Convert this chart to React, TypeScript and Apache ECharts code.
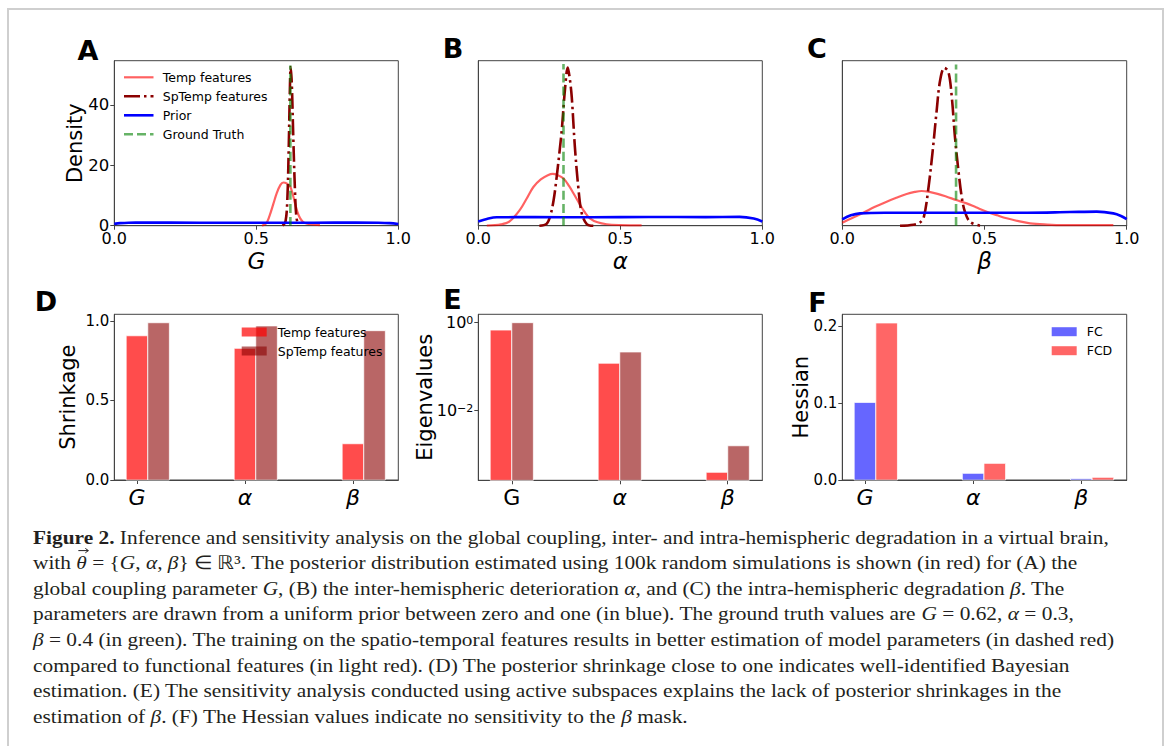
import React, { useEffect, useRef } from "react";
import * as echarts from "echarts";

// ---------- Data ----------
// Panel A: posterior densities of G
const aTemp: number[][] = [[0.52,0],[0.535,0.8],[0.546,3.1],[0.56,7.2],[0.572,10.8],[0.585,13.5],[0.595,14.3],[0.607,14.0],[0.619,13.0],[0.628,10.5],[0.636,7.5],[0.645,4.5],[0.654,2.5],[0.663,1.4],[0.671,0.9],[0.69,0.5],[0.724,0.2]];
const aSpTemp: number[][] = [[0.593,0],[0.603,1.5],[0.609,8],[0.614,25],[0.618,44],[0.621,52.5],[0.625,47],[0.63,30],[0.636,12],[0.641,3],[0.648,0]];
const aPrior: number[][] = [[0,0.6],[0.02,0.85],[0.05,1.0],[0.1,1.02],[0.3,1.0],[0.5,1.0],[0.7,1.0],[0.85,1.02],[0.93,0.98],[0.97,0.85],[1,0.55]];
const aTruth: number[][] = [[0.62,0],[0.62,53]];

// Panel B: posterior densities of alpha
const bTemp: number[][] = [[0.03,0],[0.08,0.15],[0.11,0.5],[0.147,1.9],[0.17,3.2],[0.194,4.6],[0.22,5.5],[0.245,6.0],[0.262,6.15],[0.28,6.0],[0.3,5.6],[0.32,4.7],[0.335,3.85],[0.358,2.5],[0.375,1.6],[0.393,0.88],[0.42,0.4],[0.452,0.17],[0.5,0.08],[0.575,0.05]];
const bSpTemp: number[][] = [[0.215,0],[0.24,0.2],[0.252,1],[0.265,3],[0.276,5.8],[0.286,8.8],[0.294,11.4],[0.305,16.1],[0.315,18.8],[0.322,17.5],[0.329,15.3],[0.34,9.4],[0.352,4.6],[0.364,1.5],[0.382,0.2],[0.405,0]];
const bPrior: number[][] = [[0,0.5],[0.03,0.8],[0.065,1.0],[0.2,1.02],[0.4,1.0],[0.6,1.03],[0.8,1.02],[0.92,1.05],[0.97,0.86],[1,0.5]];
const bTruth: number[][] = [[0.3,0],[0.3,19.2]];

// Panel C: posterior densities of beta
const cTemp: number[][] = [[0,0.23],[0.035,0.6],[0.074,1.0],[0.115,1.45],[0.156,1.85],[0.19,2.15],[0.226,2.44],[0.255,2.6],[0.279,2.67],[0.302,2.62],[0.335,2.45],[0.367,2.23],[0.4,1.98],[0.437,1.72],[0.47,1.42],[0.508,1.08],[0.545,0.8],[0.578,0.57],[0.62,0.35],[0.66,0.18],[0.72,0.09],[0.777,0.05],[0.953,0.05]];
const cSpTemp: number[][] = [[0.203,0],[0.25,0.08],[0.273,0.25],[0.287,0.7],[0.302,2.75],[0.318,5.8],[0.332,8.9],[0.344,11.2],[0.359,12.15],[0.373,11.85],[0.385,9.9],[0.396,6.85],[0.408,4.3],[0.42,2.2],[0.431,1.08],[0.449,0.3],[0.484,0]];
const cPrior: number[][] = [[0,0.49],[0.03,0.8],[0.062,0.95],[0.15,1.0],[0.4,1.0],[0.65,1.0],[0.8,1.05],[0.895,1.08],[0.953,0.95],[0.98,0.75],[1,0.5]];
const cTruth: number[][] = [[0.4,0],[0.4,12.4]];

// Panels D–F: bar values per parameter
const paramNames = ["G", "α", "β"];
const shrinkTemp = [0.907, 0.828, 0.228];
const shrinkSpTemp = [0.989, 0.969, 0.939];
const eigTemp = [0.68, 0.12, 0.0004];
const eigSpTemp = [1.0, 0.216, 0.0016];
const hessFC = [0.101, 0.0087, 0.0017];
const hessFCD = [0.2044, 0.0217, 0.0035];

const densityTicks = [0, 0.5, 1];
const aYTicks = [0, 20, 40];
const dYTicks = [0, 0.5, 1.0];
const eYTicks = [0.01, 1];
const fYTicks = [0, 0.1, 0.2];

// ---------- Styles ----------
const C_TEMP = "rgba(255,0,0,0.62)";
const C_SPTEMP = "#8b0000";
const C_PRIOR = "#0000ff";
const C_TRUTH = "rgba(0,128,0,0.6)";
const BAR_TEMP = "rgba(255,0,0,0.7)";
const BAR_SPTEMP = "rgba(139,0,0,0.6)";
const BAR_FC = "rgba(0,0,255,0.6)";
const BAR_FCD = "rgba(255,0,0,0.6)";
const AXIS = "#444";
const SANS = "DejaVu Sans";
const SERIF = "Liberation Serif";
const CAP_COLOR = "#231f20";

const GRIDS = [
  { left: 114.3, top: 60.7, width: 284, height: 165 },
  { left: 478.3, top: 60.7, width: 284, height: 165 },
  { left: 842.3, top: 60.7, width: 284.4, height: 165 },
  { left: 114.3, top: 314.3, width: 284, height: 165.7 },
  { left: 478.3, top: 314.3, width: 284, height: 166 },
  { left: 842.3, top: 314.3, width: 284.4, height: 165.7 },
];

const BAR_W = 0.2;
const GROUP_OFF = 0.1;

function densityX(gi: number, name: string) {
  return {
    type: "value", gridIndex: gi, min: 0, max: 1, interval: 0.5,
    axisLine: { show: true, onZero: false, lineStyle: { color: AXIS, width: 1 } },
    axisTick: { show: true, length: 4, lineStyle: { color: AXIS } },
    axisLabel: { fontSize: 16, color: "#000", fontFamily: SANS, margin: 5,
      formatter: (v: number) => densityTicks.indexOf(v) >= 0 ? v.toFixed(1) : "" },
    splitLine: { show: false },
    name, nameLocation: "middle", nameGap: 24, nameMoveOverlap: false,
    nameTextStyle: { fontSize: 23, fontStyle: "italic", fontFamily: SANS, color: "#000" },
  };
}

function barX(gi: number, labelAt: number[], rich: boolean[]) {
  return {
    type: "value", gridIndex: gi, min: -0.31, max: 2.32,
    axisLine: { show: true, onZero: false, lineStyle: { color: AXIS, width: 1 } },
    axisTick: { show: true, length: 4, customValues: labelAt, lineStyle: { color: AXIS } },
    axisLabel: {
      customValues: labelAt, margin: 6, color: "#000",
      formatter: (v: number) => {
        let idx = 0, best = 99;
        labelAt.forEach((p, i) => { if (Math.abs(p - v) < best) { best = Math.abs(p - v); idx = i; } });
        return (rich[idx] ? "{i|" : "{n|") + paramNames[idx] + "}";
      },
      rich: {
        i: { fontStyle: "italic", fontSize: 22, fontFamily: SANS, color: "#000" },
        n: { fontSize: 22, fontFamily: SANS, color: "#000" },
      },
    },
    splitLine: { show: false },
  };
}

function lineSeries(gi: number, data: number[][], color: string, width: number, type: any, z = 2) {
  return {
    type: "line", xAxisIndex: gi, yAxisIndex: gi, data, smooth: 0.35,
    showSymbol: false, symbol: "none", z,
    lineStyle: { color, width, type, cap: "butt" },
  };
}

function barSeries(gi: number, values: number[], offset: number, color: string, base: number) {
  const data = values.map((v, i) => [i + offset, v]);
  return {
    type: "custom", xAxisIndex: gi, yAxisIndex: gi, data,
    encode: { x: 0, y: 1 },
    renderItem: (params: any, api: any) => {
      const x = api.value(0), y = api.value(1);
      const tl = api.coord([x - BAR_W / 2, y]);
      const br = api.coord([x + BAR_W / 2, base]);
      return {
        type: "rect",
        shape: { x: tl[0], y: tl[1], width: br[0] - tl[0], height: br[1] - tl[1] },
        style: { fill: color, stroke: "rgba(255,255,255,0.75)", lineWidth: 1 },
      };
    },
  };
}

const captionLines = [
  "{b|Figure 2.} Inference and sensitivity analysis on the global coupling, inter- and intra-hemispheric degradation in a virtual brain,",
  "with {i|θ} = {{i|G}, {i|α}, {i|β}} ∈ ℝ³. The posterior distribution estimated using 100k random simulations is shown (in red) for (A) the",
  "global coupling parameter {i|G}, (B) the inter-hemispheric deterioration {i|α}, and (C) the intra-hemispheric degradation {i|β}. The",
  "parameters are drawn from a uniform prior between zero and one (in blue). The ground truth values are {i|G} = 0.62, {i|α} = 0.3,",
  "{i|β} = 0.4 (in green). The training on the spatio-temporal features results in better estimation of model parameters (in dashed red)",
  "compared to functional features (in light red). (D) The posterior shrinkage close to one indicates well-identified Bayesian",
  "estimation. (E) The sensitivity analysis conducted using active subspaces explains the lack of posterior shrinkages in the",
  "estimation of {i|β}. (F) The Hessian values indicate no sensitivity to the {i|β} mask.",
];

export default function App() {
  const ref = useRef<HTMLDivElement>(null);
  useEffect(() => {
    if (!ref.current) return;
    const chart = echarts.init(ref.current, null, { renderer: "svg" });
    const eMin = 0.000263, eMax = 1.55;
    const DASHDOT = [16, 4, 2.5, 4];
    const DASH = [9, 4];

    const graphic: any[] = [];
    // frame
    graphic.push({ type: "rect", shape: { x: 8, y: 9, width: 1155, height: 770 },
      style: { fill: "none", stroke: "#cfcfcf", lineWidth: 2 }, silent: true });
    // panel letters
    const letters = [["A", 88, 50], ["B", 453, 48], ["C", 817, 48], ["D", 46, 301], ["E", 452.5, 299.5], ["F", 817.5, 302]];
    letters.forEach(([t, x, y]) => graphic.push({ type: "text", x, y,
      style: { text: t, fontSize: 27, lineHeight: 26, fontWeight: "bold", fontFamily: SANS, fill: "#000", align: "center", verticalAlign: "middle" } }));
    // legend A
    const legA: [string, string, any, number][] = [
      ["Temp features", C_TEMP, "solid", 2.2], ["SpTemp features", C_SPTEMP, DASHDOT, 2.6],
      ["Prior", C_PRIOR, "solid", 2.6], ["Ground Truth", C_TRUTH, DASH, 2.6]];
    legA.forEach(([t, c, ty, w], i) => {
      const y = 77.3 + i * 19;
      graphic.push({ type: "line", shape: { x1: 124, y1: y, x2: 153.5, y2: y },
        style: { stroke: c, lineWidth: w, lineDash: ty === "solid" ? null : ty } });
      graphic.push({ type: "text", x: 162.7, y, style: { text: t, fontSize: 12.5, fontFamily: SANS, fill: "#000", verticalAlign: "middle" } });
    });
    // legend D
    [["Temp features", BAR_TEMP], ["SpTemp features", BAR_SPTEMP]].forEach(([t, c], i) => {
      const y = 332 + i * 19;
      graphic.push({ type: "rect", shape: { x: 241.7, y: y - 4.5, width: 25, height: 9 }, style: { fill: c }, z: 10 });
      graphic.push({ type: "text", x: 277.7, y, z: 10, style: { text: t, fontSize: 12.5, fontFamily: SANS, fill: "#000", verticalAlign: "middle" } });
    });
    // legend F
    [["FC", BAR_FC], ["FCD", BAR_FCD]].forEach(([t, c], i) => {
      const y = 331.7 + i * 19;
      graphic.push({ type: "rect", shape: { x: 1051.7, y: y - 4.5, width: 25, height: 9 }, style: { fill: c }, z: 10 });
      graphic.push({ type: "text", x: 1086.7, y, z: 10, style: { text: t, fontSize: 12.5, fontFamily: SANS, fill: "#000", verticalAlign: "middle" } });
    });
    // caption
    const CF = 19, SX = 1.125, CX = 33, CY0 = 537, CDY = 25.6;
    captionLines.forEach((line, k) => {
      graphic.push({ type: "text", x: CX, y: CY0 + k * CDY, scaleX: SX,
        style: { text: line, fontSize: CF, fontFamily: SERIF, fill: CAP_COLOR, verticalAlign: "middle",
          rich: { b: { fontWeight: "bold", fontSize: CF, fontFamily: SERIF, fill: CAP_COLOR },
                  i: { fontStyle: "italic", fontSize: CF, fontFamily: SERIF, fill: CAP_COLOR } } } });
    });
    // vector arrow above theta (line 2)
    let preW = 38.5, thW = 9.5;
    try {
      const ctx = document.createElement("canvas").getContext("2d");
      if (ctx) {
        ctx.font = `${CF}px "${SERIF}"`; preW = ctx.measureText("with ").width;
        ctx.font = `italic ${CF}px "${SERIF}"`; thW = ctx.measureText("θ").width;
      }
    } catch (e) { /* keep defaults */ }
    const ax0 = CX + preW * SX + 2, ax1 = CX + (preW + thW) * SX + 1.5, ay = CY0 + CDY - 12;
    graphic.push({ type: "line", shape: { x1: ax0, y1: ay, x2: ax1, y2: ay }, style: { stroke: CAP_COLOR, lineWidth: 1 } });
    graphic.push({ type: "polyline", shape: { points: [[ax1 - 3, ay - 2.2], [ax1, ay], [ax1 - 3, ay + 2.2]] }, style: { stroke: CAP_COLOR, lineWidth: 1, fill: "none" } });

    const yBase = { axisLine: { show: true, onZero: false, lineStyle: { color: AXIS, width: 1 } }, splitLine: { show: false } };
    const yName = (name: string, gap: number) => ({ name, nameLocation: "middle", nameGap: gap, nameMoveOverlap: false,
      nameTextStyle: { fontSize: 21, fontFamily: SANS, color: "#000" } });
    const tick = (vals: number[]) => ({ show: true, length: 4, customValues: vals, lineStyle: { color: AXIS } });
    const tickLab = (fs: number, vals: number[], fmt?: any) => ({ fontSize: fs, color: "#000", fontFamily: SANS, margin: 5, customValues: vals, formatter: fmt });

    const option: any = {
      animation: false,
      backgroundColor: "#fff",
      grid: GRIDS.map(g => ({ ...g, show: true, borderColor: AXIS, borderWidth: 1, backgroundColor: "transparent" })),
      xAxis: [
        densityX(0, "G"), densityX(1, "α"), densityX(2, "β"),
        barX(3, [-GROUP_OFF, 1 - GROUP_OFF, 2 - GROUP_OFF], [true, true, true]),
        barX(4, [0, 1, 2], [false, true, true]),
        barX(5, [-GROUP_OFF, 1 - GROUP_OFF, 2 - GROUP_OFF], [true, true, true]),
      ],
      yAxis: [
        { type: "value", gridIndex: 0, min: 0, max: 54.6, ...yBase,
          axisTick: tick(aYTicks), axisLabel: tickLab(16.5, aYTicks, (v: number) => String(Math.round(v))), ...yName("Density", 29) },
        { type: "value", gridIndex: 1, min: 0, max: 19.6, ...yBase, axisTick: { show: false }, axisLabel: { show: false } },
        { type: "value", gridIndex: 2, min: 0, max: 12.7, ...yBase, axisTick: { show: false }, axisLabel: { show: false } },
        { type: "value", gridIndex: 3, min: 0, max: 1.042, ...yBase,
          axisTick: tick(dYTicks), axisLabel: tickLab(15, dYTicks, (v: number) => v.toFixed(1)), ...yName("Shrinkage", 36) },
        { type: "log", logBase: 10, gridIndex: 4, min: eMin, max: eMax, ...yBase,
          axisTick: tick(eYTicks),
          axisLabel: { ...tickLab(16, eYTicks, (v: number) => (v > 0.5 ? "10{s|0}" : "10{s|−2}")),
            rich: { s: { fontSize: 11, fontFamily: SANS, color: "#000", verticalAlign: "top", lineHeight: 11 } },
            lineHeight: 16 },
          ...yName("Eigenvalues", 43) },
        { type: "value", gridIndex: 5, min: 0, max: 0.2157, ...yBase,
          axisTick: tick(fYTicks), axisLabel: tickLab(15, fYTicks, (v: number) => v.toFixed(1)), ...yName("Hessian", 31) },
      ],
      series: [
        lineSeries(0, aTemp, C_TEMP, 2.2, "solid"),
        lineSeries(0, aSpTemp, C_SPTEMP, 2.6, DASHDOT),
        lineSeries(0, aPrior, C_PRIOR, 2.6, "solid"),
        lineSeries(0, aTruth, C_TRUTH, 2.6, DASH),
        lineSeries(1, bTemp, C_TEMP, 2.2, "solid"),
        lineSeries(1, bSpTemp, C_SPTEMP, 2.6, DASHDOT),
        lineSeries(1, bPrior, C_PRIOR, 2.6, "solid"),
        lineSeries(1, bTruth, C_TRUTH, 2.6, DASH),
        lineSeries(2, cTemp, C_TEMP, 2.2, "solid"),
        lineSeries(2, cSpTemp, C_SPTEMP, 2.6, DASHDOT),
        lineSeries(2, cPrior, C_PRIOR, 2.6, "solid"),
        lineSeries(2, cTruth, C_TRUTH, 2.6, DASH),
        barSeries(3, shrinkTemp, -GROUP_OFF, BAR_TEMP, 0),
        barSeries(3, shrinkSpTemp, GROUP_OFF, BAR_SPTEMP, 0),
        barSeries(4, eigTemp, -GROUP_OFF, BAR_TEMP, eMin),
        barSeries(4, eigSpTemp, GROUP_OFF, BAR_SPTEMP, eMin),
        barSeries(5, hessFC, -GROUP_OFF, BAR_FC, 0),
        barSeries(5, hessFCD, GROUP_OFF, BAR_FCD, 0),
      ],
      graphic,
    };
    chart.setOption(option);
    return () => chart.dispose();
  }, []);
  return (
    <div ref={ref} style={{ position: "fixed", left: 0, top: 0, width: 1167, height: 746, background: "#fff" }} />
  );
}
